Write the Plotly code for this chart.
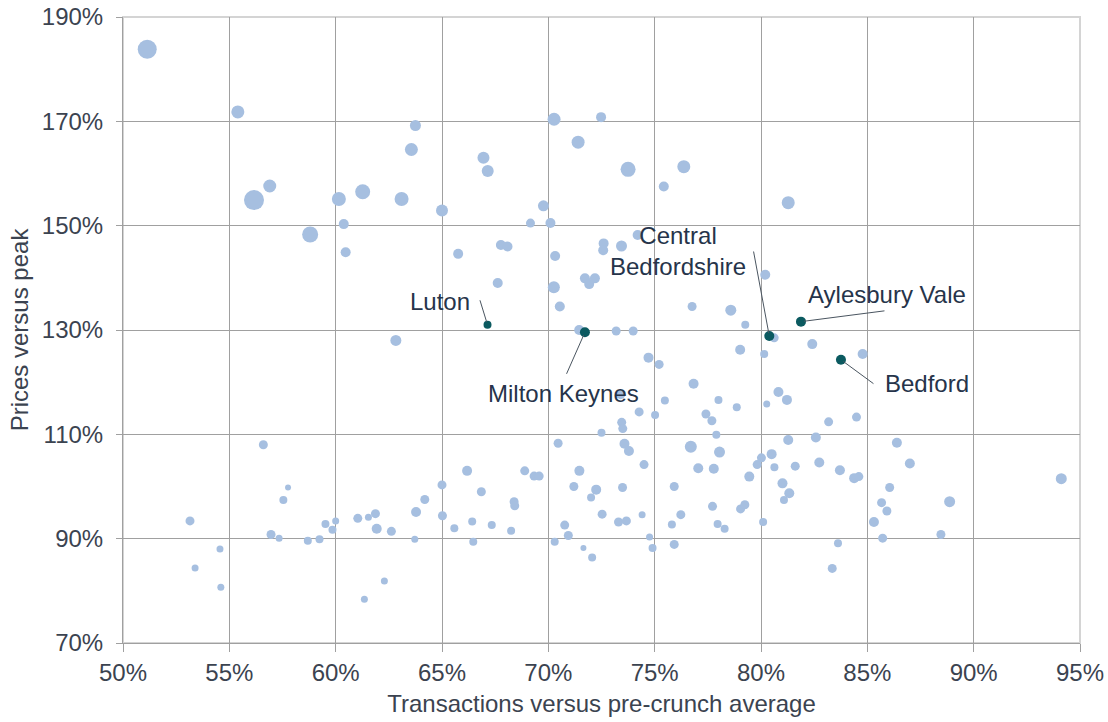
import plotly.graph_objects as go

# Transactions vs pre-crunch average (%), prices vs peak (%), bubble weight
trans = [51.14, 55.4, 63.75, 63.56, 56.9, 56.16, 60.15, 61.27, 63.1, 65.0, 60.38, 58.8,
         70.27, 72.48, 71.4, 66.95, 67.15, 73.75, 76.37, 75.43, 69.77, 69.16, 70.1, 74.2,
         72.6, 72.58, 81.28, 60.47, 62.83, 65.76, 67.77, 68.08, 67.62, 70.32, 73.44, 70.26,
         70.54, 71.72, 72.19, 71.92, 71.45, 73.19, 73.99, 74.71, 75.21, 76.76, 78.58, 79.26,
         80.2, 79.02, 80.15, 80.62, 76.83, 75.48, 78.0, 78.86, 80.27, 74.27, 75.02, 77.41,
         77.69, 73.45, 73.5, 72.5, 77.9, 82.41, 84.78, 80.82, 81.22, 83.18, 84.49, 73.4,
         56.6, 57.76, 57.54, 53.15, 56.96, 57.34, 58.69, 59.24, 59.52, 59.85, 60.0, 61.04,
         61.54, 61.87, 61.93, 62.62, 63.78, 64.19, 65.0, 65.02, 63.72, 54.56, 53.39, 54.6,
         62.29, 61.35, 66.18, 66.85, 65.58, 66.42, 66.47, 67.34, 68.25, 68.39, 68.42, 68.89,
         69.33, 69.57, 70.46, 73.58, 73.79, 74.5, 71.46, 71.2, 72.25, 72.01, 73.49, 72.53,
         73.3, 73.67, 74.41, 70.77, 70.94, 70.3, 71.65, 72.06, 74.76, 74.9, 75.92, 76.23,
         75.81, 75.92, 76.7, 77.05, 77.78, 78.05, 77.72, 77.96, 78.29, 79.82, 80.02, 80.5,
         79.45, 79.04, 79.24, 80.1, 81.28, 82.58, 80.63, 81.61, 82.74, 83.71, 84.38, 84.6,
         81.01, 81.33, 81.08, 83.62, 83.35, 86.39, 87.0, 86.05, 85.67, 85.92, 85.31, 85.72,
         88.87, 88.46, 94.12]
prices = [183.8, 171.8, 169.2, 164.6, 157.6, 154.9, 155.1, 156.5, 155.1, 152.9, 150.3, 148.3,
          170.4, 170.8, 166.0, 163.0, 160.5, 160.8, 161.3, 157.5, 153.8, 150.5, 150.5, 148.2,
          146.6, 145.3, 154.4, 144.9, 128.0, 144.6, 146.3, 146.0, 139.0, 144.2, 146.1, 138.2,
          134.5, 139.9, 139.9, 138.8, 130.0, 129.8, 129.8, 124.7, 123.4, 134.5, 133.8, 131.0,
          140.6, 126.2, 125.4, 128.5, 119.7, 116.5, 116.6, 115.2, 115.8, 114.3, 113.7, 113.9,
          112.6, 112.3, 111.1, 110.3, 109.9, 127.3, 125.4, 118.1, 116.6, 112.4, 113.3, 117.6,
          108.0, 99.8, 97.4, 93.4, 90.8, 90.1, 89.6, 89.9, 92.8, 91.7, 93.4, 93.9,
          94.1, 94.8, 91.9, 91.4, 95.1, 97.5, 100.3, 94.4, 89.9, 88.0, 84.4, 80.7,
          81.9, 78.4, 103.0, 99.0, 92.0, 93.3, 89.4, 92.6, 91.5, 97.1, 96.3, 103.0,
          102.0, 102.0, 108.3, 108.2, 106.8, 104.2, 103.0, 100.0, 99.4, 97.9, 99.8, 94.7,
          93.2, 93.4, 94.6, 92.6, 90.6, 89.4, 88.2, 86.4, 90.3, 88.2, 100.0, 94.6,
          92.7, 88.9, 107.6, 103.5, 103.4, 106.6, 96.2, 92.8, 91.9, 104.2, 105.5, 106.2,
          101.9, 95.7, 96.5, 93.2, 108.9, 109.4, 103.7, 103.9, 104.6, 103.1, 101.6, 101.9,
          100.6, 98.7, 97.4, 89.1, 84.3, 108.4, 104.4, 99.8, 96.9, 95.3, 93.2, 90.1,
          97.1, 90.8, 101.5]
weight = [9.5, 6.5, 5.5, 6.5, 6.5, 10, 7, 7.5, 7, 6, 5, 8,
          6.5, 5, 6.5, 6, 6, 7.5, 6.5, 5, 5.5, 4.5, 5, 5,
          5, 5, 6.5, 5, 5.5, 5, 5, 5, 5, 5, 5.5, 6,
          5, 5, 5, 5, 5, 4.5, 4.5, 5, 4.5, 4.5, 5.5, 4,
          5, 5, 4, 4.5, 5, 4, 4, 4, 3.5, 4.5, 4, 4.5,
          4.5, 4.5, 4.5, 4, 4, 5, 5, 5, 5, 4.5, 4.5, 4.5,
          4.5, 3, 4, 4.5, 4.5, 3.5, 4, 4, 4, 4, 3.5, 4.5,
          3.5, 4.5, 5, 4.5, 5, 4.5, 4.5, 4.5, 3.5, 3.5, 3.5, 3.5,
          3.5, 3.5, 5, 4.5, 4, 4, 4, 4, 4, 4.5, 4.5, 4.5,
          4.5, 4.5, 4.5, 5, 5, 4.5, 5, 4.5, 5, 4, 4.5, 4.5,
          4.5, 4.5, 3.5, 4.5, 4.5, 4, 3, 4, 3.5, 4, 4.5, 4.5,
          4, 4.5, 6, 5, 5, 5.5, 4.5, 4, 4, 4.5, 4.5, 5,
          5, 4.5, 4.5, 4, 5, 5, 4, 4.5, 5, 5, 5, 4.5,
          5, 5, 4, 4, 4.5, 5, 5, 4.5, 4.5, 4.5, 5, 4.5,
          5.5, 4.5, 5.5]

# highlighted areas
hl_names = ['Luton', 'Milton Keynes', 'Central<br>Bedfordshire', 'Aylesbury Vale', 'Bedford']
hl_trans = [67.14, 71.72, 80.39, 81.88, 83.76]
hl_prices = [131.0, 129.56, 128.85, 131.6, 124.3]
hl_weight = [4, 5, 5, 5, 5]
# label centre offsets and leader-line tail offsets, in pixels from the point
lbl_dx = [-48, -21, -91, 86, 86]
lbl_dy = [23, -61, 85, 27, -24]
lead_dx = [-8, -19, -16, 85, 34]
lead_dy = [-26, 43, -86, -11, 25]

xticks = [50, 55, 60, 65, 70, 75, 80, 85, 90, 95]
yticks = [70, 90, 110, 130, 150, 170, 190]

FONT = 'Liberation Sans, Arial, sans-serif'
TEXT = '#26344a'
TICK = '#3b4350'
GRID = '#a0a0a0'

fig = go.Figure()
fig.add_trace(go.Scatter(
    x=trans, y=prices, mode='markers',
    marker=dict(size=[2 * w for w in weight], color='#a6bfe0', opacity=1, line=dict(width=0)),
    showlegend=False, hoverinfo='x+y'))
fig.add_trace(go.Scatter(
    x=hl_trans, y=hl_prices, mode='markers',
    marker=dict(size=[2 * w for w in hl_weight], color='#0b5a60', opacity=1, line=dict(width=0)),
    text=hl_names, showlegend=False, hoverinfo='text+x+y'))

for i, name in enumerate(hl_names):
    x, y = hl_trans[i], hl_prices[i]
    # leader line
    fig.add_annotation(x=x, y=y, text='', showarrow=True, ax=lead_dx[i], ay=lead_dy[i],
                       arrowhead=0, arrowwidth=1, arrowcolor='#4a5560', standoff=3)
    # label
    fig.add_annotation(x=x, y=y, text=name, showarrow=False,
                       xshift=lbl_dx[i], yshift=lbl_dy[i],
                       font=dict(family=FONT, size=24, color=TEXT), align='center')

fig.update_xaxes(range=[50, 95], tickvals=xticks, ticktext=[f'{v}%' for v in xticks],
                 showgrid=True, gridcolor=GRID, gridwidth=1, automargin=False,
                 showline=True, linecolor=GRID, ticks='outside', ticklen=8, tickcolor=GRID,
                 zeroline=False, tickfont=dict(family=FONT, size=24, color=TICK),
                 title=dict(text='Transactions versus pre-crunch average', standoff=10,
                            font=dict(family=FONT, size=24, color=TICK)))
fig.update_yaxes(range=[70, 190], tickvals=yticks, ticktext=[f'{v}%' for v in yticks],
                 showgrid=True, gridcolor=GRID, gridwidth=1, automargin=False,
                 showline=True, linecolor=GRID, ticks='outside', ticklen=6, tickcolor=GRID,
                 ticklabelstandoff=8,
                 zeroline=False, tickfont=dict(family=FONT, size=24, color=TICK),
                 title=dict(text='Prices versus peak', standoff=6,
                            font=dict(family=FONT, size=24, color=TICK)))

# light outer frame on top and right
fig.add_shape(type='rect', xref='paper', yref='paper', x0=0, x1=1, y0=0, y1=1,
              line=dict(color='#d4d4d4', width=2), layer='below')

fig.update_layout(width=1108, height=722, plot_bgcolor='white', paper_bgcolor='white',
                  margin=dict(l=123, r=28, t=17, b=79))
# drop the page's default body margin so the figure sits at the window corner
fig.write_html('out.html', config={'displayModeBar': False},
               post_script="document.body.style.margin='0';")
